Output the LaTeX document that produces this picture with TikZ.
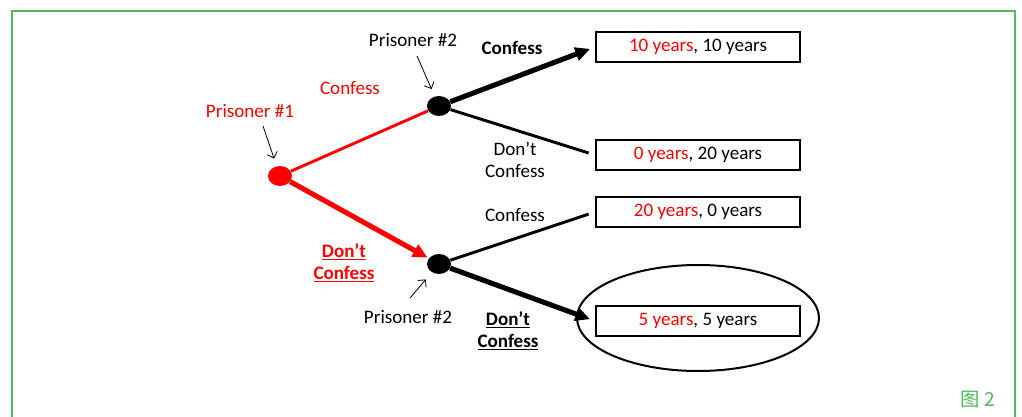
\documentclass[tikz,border=0pt]{standalone}
\usepackage{fontspec}
\setmainfont{Carlito}
\newfontfamily\cjk{Noto Sans CJK SC}
\usetikzlibrary{arrows.meta,shapes.geometric}
\definecolor{framegreen}{RGB}{80,186,92}
\definecolor{pred}{RGB}{255,0,0}

\begin{document}
\begin{tikzpicture}[x=0.75pt,y=-0.75pt]
                \tikzstyle{every node}+=[font=\fontsize{14.3}{16.5}\selectfont]
                \tikzstyle{choice}=[ellipse,minimum width=18pt,minimum height=15pt,inner sep=0pt]
                \tikzstyle{outcome}=[draw,line width=1.5pt,minimum width=153pt,minimum height=22.5pt,inner sep=0pt]
                \tikzstyle{plainmove}=[line width=2.2pt,shorten >=5pt]
                \tikzstyle{bestmove}=[line width=3.8pt,-{Triangle[length=11pt,width=10pt]},shorten >=4pt]
                \tikzstyle{pointer}=[line width=0.6pt,-{Straight Barb[length=4pt]}]
                \useasboundingbox (0,0) rectangle (1022,417);
                \draw [framegreen,line width=2.2pt] (12,420) -- (12,11) -- (1015,11) -- (1015,420);
                \node [choice,fill=pred] (p1) at (280,176) {};
                \node [choice,fill=black] (p2a) at (439,106) {};
                \node [choice,fill=black] (p2b) at (439,264) {};
                \node [draw,ellipse,line width=1.5pt,minimum width=181.5pt,minimum height=79.5pt] (ring) at (698,318) {};
                \node [outcome] (cc) at (698,47) {\textcolor{pred}{10 years}, 10 years};
                \node [outcome] (cd) at (698,155) {\textcolor{pred}{0 years}, 20 years};
                \node [outcome] (dc) at (698,212) {\textcolor{pred}{20 years}, 0 years};
                \node [outcome] (dd) at (698,321) {\textcolor{pred}{5 years}, 5 years};
                \node [pred] (lp1) at (250,111) {Prisoner \#1};
                \node (lp2a) at (413,40) {Prisoner \#2};
                \node (lp2b) at (408,317) {Prisoner \#2};
                \node [pred] (lc1) at (350,88) {Confess};
                \node [pred,font=\fontsize{14.3}{16.5}\selectfont\bfseries,align=center] (ld1) at (344,263) {\underline{Don’t}\\\underline{Confess}};
                \node [font=\fontsize{14.3}{16.5}\selectfont\bfseries] (lcc) at (512,48) {Confess};
                \node [align=center] (lcd) at (515,160) {Don’t\\Confess};
                \node (ldc) at (515,215) {Confess};
                \node [font=\fontsize{14.3}{16.5}\selectfont\bfseries,align=center] (ldd) at (508,331) {\underline{Don’t}\\\underline{Confess}};
                \node [framegreen,font=\fontsize{14.5}{16}\cjk] (fig) at (978,400) {图 2};
                \coordinate (t1) at (263,126);
                \coordinate (t2) at (417,56);
                \coordinate (t3) at (410,298);
                \draw [pointer,shorten >=6pt] (t1) -- (p1);
                \draw [pointer,shorten >=6pt] (t2) -- (p2a);
                \draw [pointer,shorten >=7pt] (t3) -- (p2b);
                \draw [pred,line width=2.2pt] (p1) -- (p2a);
                \draw [pred,bestmove,shorten >=1pt] (p1) -- (p2b);
                \draw [bestmove] (p2a) -- (cc.west);
                \draw [plainmove] (p2a) -- (cd.west);
                \draw [plainmove] (p2b) -- (dc.west);
                \draw [bestmove] (p2b) -- (dd.west);
\end{tikzpicture}
\end{document}
